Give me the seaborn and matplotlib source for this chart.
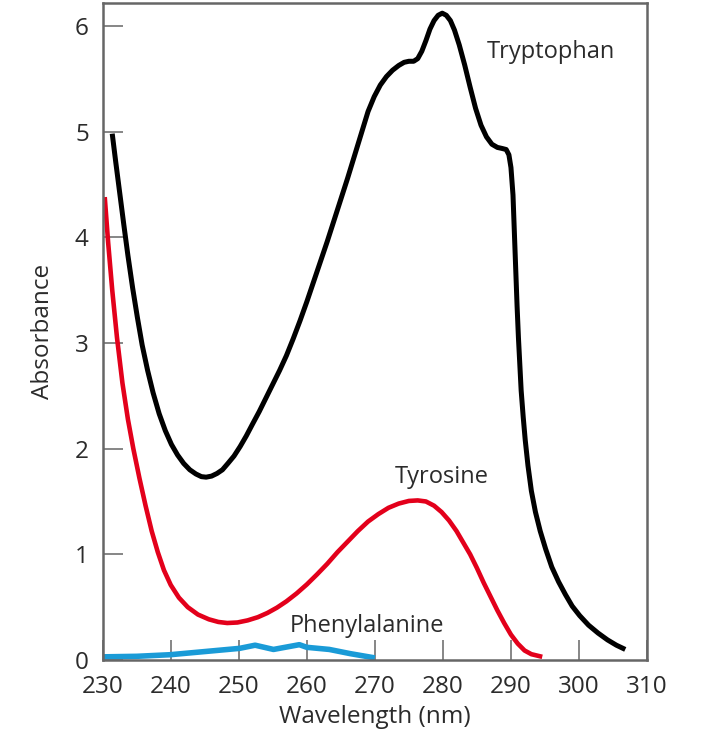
import matplotlib
matplotlib.use("Agg")
import matplotlib.pyplot as plt
import seaborn as sns
import pandas as pd

# absorbance spectra
trp_nm = [231.4, 231.9, 232.5, 233.1, 233.7, 234.4, 235.1, 235.8, 236.6, 237.4,
          238.3, 239.2, 240.1, 241.0, 241.9, 242.8, 243.7, 244.5, 245.2, 246.0,
          246.8, 247.6, 248.4, 249.3, 250.2, 251.1, 252.0, 253.0, 254.0, 255.0,
          256.0, 257.0, 258.0, 259.0, 260.0, 261.0, 262.0, 263.0, 264.0, 265.0,
          266.0, 267.0, 268.0, 269.0, 269.9, 270.8, 271.7, 272.6, 273.5, 274.3,
          275.0, 275.7, 276.3, 276.9, 277.5, 278.1, 278.7, 279.3, 279.9, 280.5,
          281.1, 281.7, 282.4, 283.2, 284.0, 284.8, 285.6, 286.4, 287.2, 288.0,
          288.7, 289.3, 289.7, 290.0, 290.3, 290.5, 290.7, 290.9, 291.1, 291.3,
          291.5, 291.8, 292.1, 292.5, 293.0, 293.6, 294.3, 295.1, 296.0, 297.0,
          298.0, 299.0, 300.1, 301.4, 302.8, 304.2, 305.5, 306.8]
trp_abs = [4.98, 4.72, 4.42, 4.12, 3.83, 3.52, 3.24, 2.98, 2.74, 2.53,
           2.33, 2.17, 2.04, 1.94, 1.86, 1.80, 1.76, 1.735, 1.73, 1.74,
           1.765, 1.80, 1.86, 1.93, 2.02, 2.12, 2.23, 2.35, 2.48, 2.61,
           2.74, 2.88, 3.04, 3.21, 3.39, 3.58, 3.77, 3.96, 4.16, 4.36,
           4.56, 4.77, 4.98, 5.19, 5.33, 5.44, 5.52, 5.58, 5.625, 5.655,
           5.665, 5.665, 5.69, 5.76, 5.86, 5.97, 6.05, 6.10, 6.12, 6.10,
           6.05, 5.96, 5.82, 5.63, 5.42, 5.22, 5.06, 4.95, 4.88, 4.85,
           4.84, 4.83, 4.78, 4.66, 4.40, 4.05, 3.70, 3.35, 3.05, 2.80,
           2.55, 2.30, 2.08, 1.84, 1.60, 1.40, 1.22, 1.05, 0.88, 0.74,
           0.62, 0.51, 0.42, 0.33, 0.255, 0.19, 0.14, 0.10]

tyr_nm = [230.3, 230.8, 231.4, 232.1, 232.9, 233.7, 234.5, 235.4, 236.3, 237.2,
          238.1, 239.0, 240.0, 241.2, 242.5, 244.0, 245.6, 247.0, 248.3, 249.8,
          251.3, 252.8, 254.2, 255.6, 257.0, 258.5, 260.0, 261.5, 263.0, 264.5,
          266.0, 267.5, 269.0, 270.5, 272.0, 273.5, 275.0, 276.3, 277.5, 278.7,
          279.8, 280.9, 282.0, 283.0, 284.0, 285.0, 286.0, 287.0, 288.0, 289.0,
          290.0, 291.0, 292.0, 293.0, 294.6]
tyr_abs = [4.38, 3.95, 3.50, 3.05, 2.62, 2.28, 2.00, 1.72, 1.46, 1.22,
           1.02, 0.85, 0.71, 0.59, 0.50, 0.43, 0.385, 0.36, 0.35, 0.355,
           0.375, 0.405, 0.445, 0.495, 0.555, 0.63, 0.715, 0.81, 0.91, 1.02,
           1.12, 1.22, 1.31, 1.38, 1.44, 1.48, 1.505, 1.51, 1.50, 1.46,
           1.40, 1.32, 1.22, 1.11, 1.00, 0.87, 0.73, 0.60, 0.47, 0.35,
           0.24, 0.155, 0.09, 0.055, 0.03]

phe_nm = [230.1, 235.0, 239.9, 245.0, 250.1, 252.4, 255.1, 258.9, 260.0, 263.3, 266.4, 270.0]
phe_abs = [0.03, 0.035, 0.05, 0.08, 0.11, 0.14, 0.10, 0.145, 0.12, 0.10, 0.06, 0.02]

x_ticks = [230, 240, 250, 260, 270, 280, 290, 300, 310]
y_ticks = [0, 1, 2, 3, 4, 5, 6]

sns.set_style("ticks")
plt.rcParams["font.family"] = ["Open Sans", "DejaVu Sans"]
txt = "#2b2b2b"
spine_col = "#666666"

fig = plt.figure(figsize=(7.02, 7.40), dpi=100)
ax = fig.add_axes([0.1463, 0.1081, 0.7754, 0.8878])

trp = pd.DataFrame({"nm": trp_nm, "A": trp_abs})
tyr = pd.DataFrame({"nm": tyr_nm, "A": tyr_abs})
phe = pd.DataFrame({"nm": phe_nm, "A": phe_abs})

line_kw = dict(estimator=None, ax=ax, solid_joinstyle="round", solid_capstyle="butt")
sns.lineplot(data=trp, x="nm", y="A", color="black", lw=3.6, **line_kw)
sns.lineplot(data=tyr, x="nm", y="A", color="#e3001b", lw=3.3, **line_kw)
sns.lineplot(data=phe, x="nm", y="A", color="#1a9bd7", lw=4.0, **line_kw)

ax.set_xlim(230, 310)
ax.set_ylim(0, 6.216)
ax.set_xticks(x_ticks)
ax.set_yticks(y_ticks)

for s in ax.spines.values():
    s.set_visible(True)
    s.set_color(spine_col)
    s.set_linewidth(1.8)

ax.tick_params(direction="in", length=14.5, width=1.1, color=spine_col,
               labelsize=17.5, labelcolor=txt, top=False, right=False)
ax.tick_params(axis="x", pad=11)
ax.tick_params(axis="y", pad=10)

ax.set_xlabel("Wavelength (nm)", fontsize=17.5, color=txt, labelpad=4)
ax.set_ylabel("Absorbance", fontsize=17.5, color=txt, labelpad=14)

ax.text(295.8, 5.75, "Tryptophan", fontsize=17, color=txt, ha="center", va="center")
ax.text(279.8, 1.73, "Tyrosine", fontsize=17, color=txt, ha="center", va="center")
ax.text(268.9, 0.32, "Phenylalanine", fontsize=17, color=txt, ha="center", va="center")

fig.savefig("out.png", dpi=100)
